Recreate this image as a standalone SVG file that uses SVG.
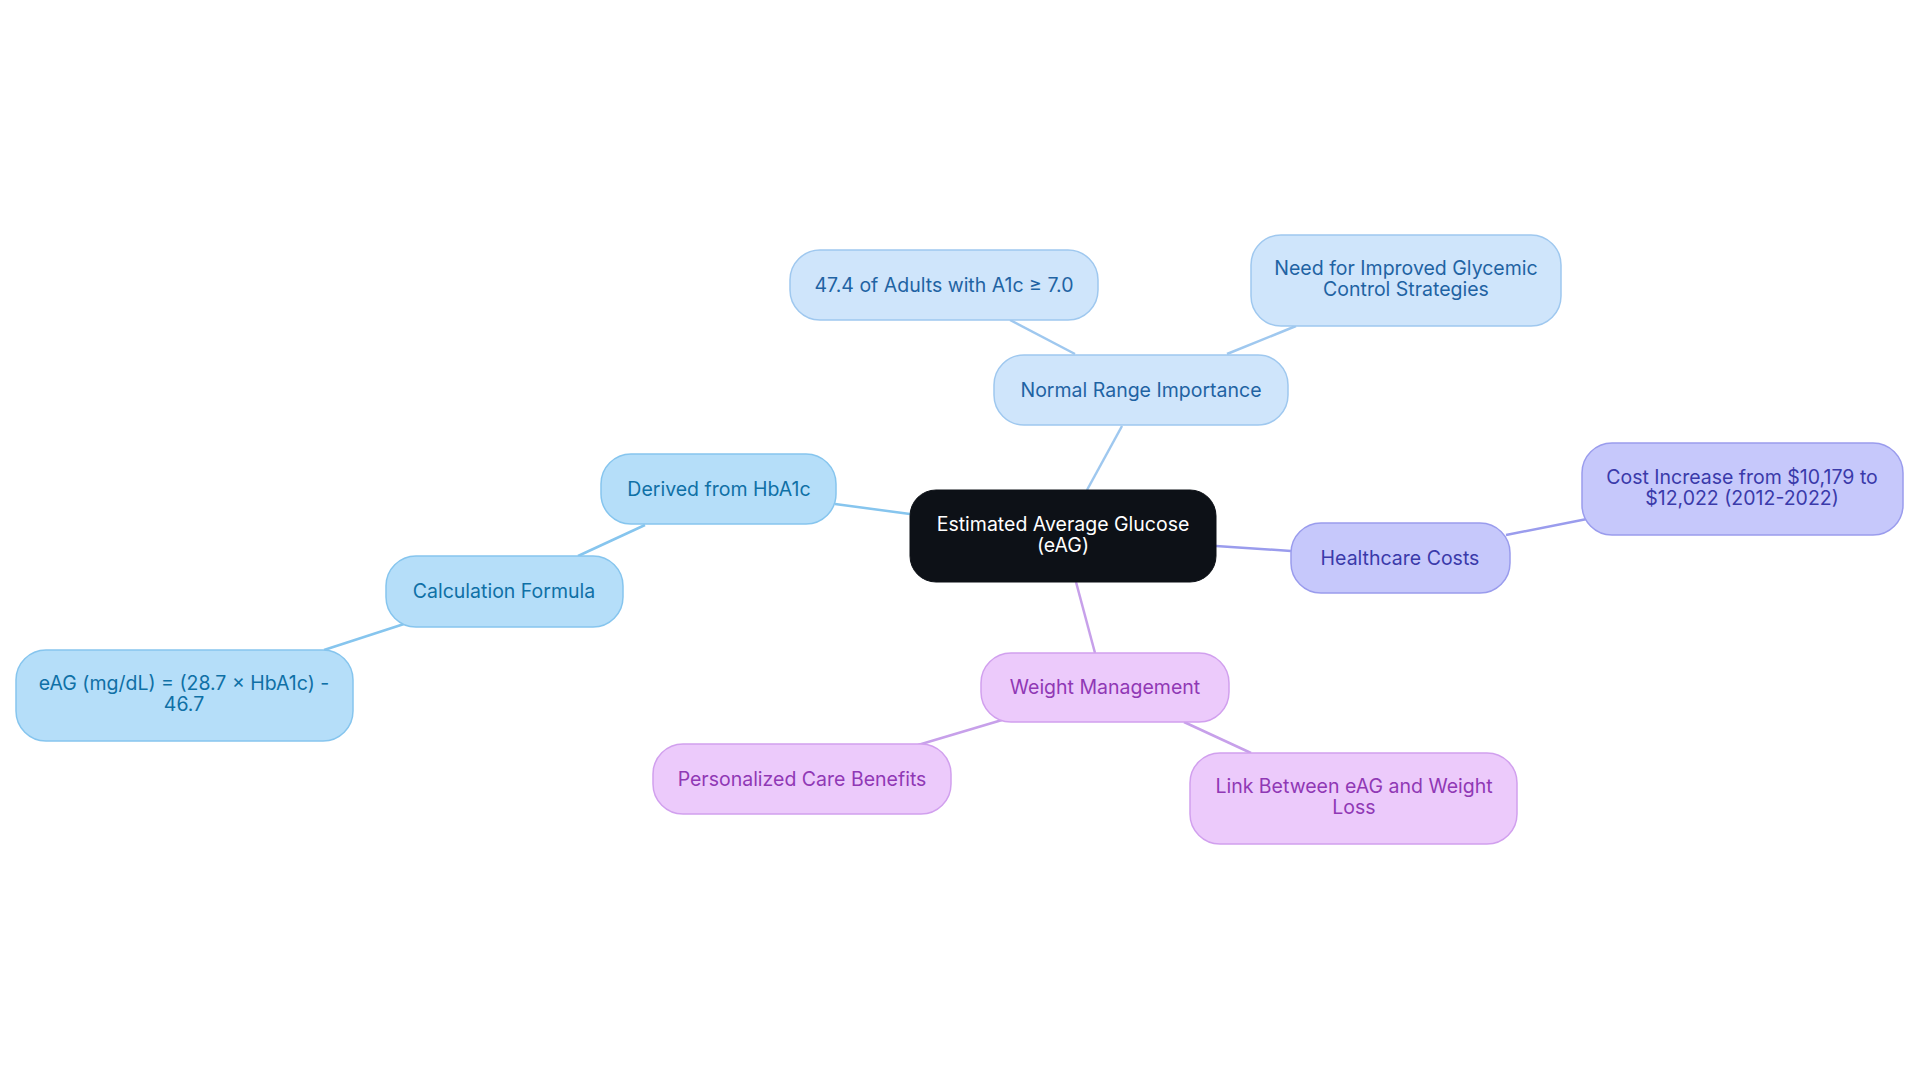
<svg xmlns="http://www.w3.org/2000/svg" width="1920" height="1083" viewBox="0 0 1920 1083">
<style>
text{font-family:Inter,"Noto Sans","Liberation Sans",sans-serif;font-size:19.5px;text-anchor:middle}
.c{fill:#0d1117;stroke:#0d1117}
.c+text,.tc{fill:#fff}
.b1{fill:#cfe5fb;stroke:#9fc8ef;stroke-width:1.5}.t1{fill:#1f63a3}
.b2{fill:#b5def9;stroke:#86c5ee;stroke-width:1.5}.t2{fill:#0f70a6}
.b3{fill:#c6c8fb;stroke:#9a9ced;stroke-width:1.5}.t3{fill:#3a3aaa}
.b4{fill:#eccafb;stroke:#d1a0ee;stroke-width:1.5}.t4{fill:#9038b5}
#edges line{stroke-width:2.5}
</style>
<rect width="1920" height="1083" fill="#fff"/>
<g id="edges">
<line x1="1087" y1="490" x2="1122" y2="426" stroke="#9fc8ef"/>
<line x1="1075" y1="354" x2="1010" y2="320" stroke="#9fc8ef"/>
<line x1="1227" y1="354" x2="1296" y2="326" stroke="#9fc8ef"/>
<line x1="910" y1="514" x2="835" y2="504" stroke="#86c5ee"/>
<line x1="645" y1="525" x2="578" y2="556" stroke="#86c5ee"/>
<line x1="404" y1="624" x2="324" y2="650" stroke="#86c5ee"/>
<line x1="1216" y1="546" x2="1291" y2="551" stroke="#9a9ced"/>
<line x1="1506" y1="535" x2="1587" y2="519" stroke="#9a9ced"/>
<line x1="1076" y1="582" x2="1095" y2="653" stroke="#c7a0ea"/>
<line x1="1002" y1="720" x2="918" y2="745" stroke="#c7a0ea"/>
<line x1="1184" y1="722" x2="1251" y2="753" stroke="#c7a0ea"/>
</g>
<g id="center"><rect class="c" x="910" y="490" width="306" height="92" rx="26"/><text class="tc" x="1063" y="531">Estimated Average Glucose</text><text class="tc" x="1063" y="552">(eAG)</text></g>
<g id="normal"><rect class="b1" x="994" y="355" width="294" height="70" rx="30"/><text class="t1" x="1141" y="397">Normal Range Importance</text></g>
<g id="adults"><rect class="b1" x="790" y="250" width="308" height="70" rx="30"/><text class="t1" x="944" y="292">47.4 of Adults with A1c ≥ 7.0</text></g>
<g id="need"><rect class="b1" x="1251" y="235" width="310" height="91" rx="30"/><text class="t1" x="1406" y="275">Need for Improved Glycemic</text><text class="t1" x="1406" y="296">Control Strategies</text></g>
<g id="derived"><rect class="b2" x="601" y="454" width="235" height="70" rx="30"/><text class="t2" x="719" y="496">Derived from HbA1c</text></g>
<g id="calc"><rect class="b2" x="386" y="556" width="237" height="71" rx="30"/><text class="t2" x="504" y="598">Calculation Formula</text></g>
<g id="formula"><rect class="b2" x="16" y="650" width="337" height="91" rx="30"/><text class="t2" x="184" y="690">eAG (mg/dL) = (28.7 × HbA1c) -</text><text class="t2" x="184" y="711">46.7</text></g>
<g id="health"><rect class="b3" x="1291" y="523" width="219" height="70" rx="30"/><text class="t3" x="1400" y="565">Healthcare Costs</text></g>
<g id="cost"><rect class="b3" x="1582" y="443" width="321" height="92" rx="30"/><text class="t3" x="1742" y="484">Cost Increase from $10,179 to</text><text class="t3" x="1742" y="505">$12,022 (2012-2022)</text></g>
<g id="weight"><rect class="b4" x="981" y="653" width="248" height="69" rx="30"/><text class="t4" x="1105" y="694">Weight Management</text></g>
<g id="personal"><rect class="b4" x="653" y="744" width="298" height="70" rx="30"/><text class="t4" x="802" y="786">Personalized Care Benefits</text></g>
<g id="link"><rect class="b4" x="1190" y="753" width="327" height="91" rx="30"/><text class="t4" x="1354" y="793">Link Between eAG and Weight</text><text class="t4" x="1354" y="814">Loss</text></g>
</svg>
